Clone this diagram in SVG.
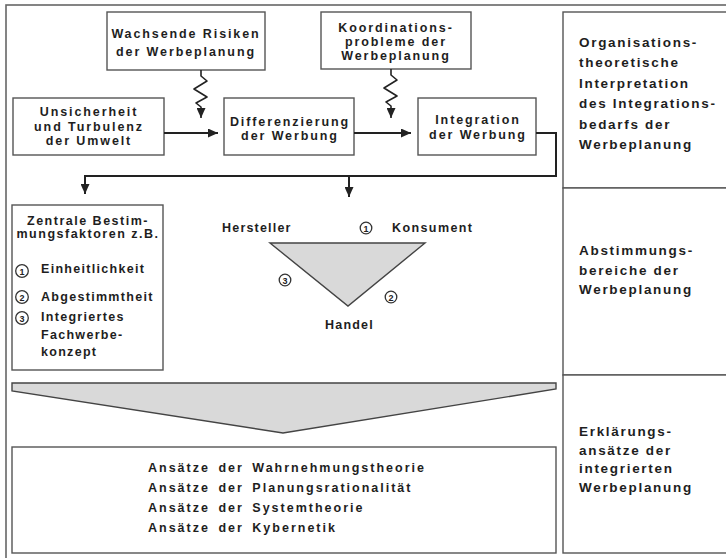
<svg xmlns="http://www.w3.org/2000/svg" width="726" height="558" viewBox="0 0 726 558">
<style>
  .box { fill: #ffffff; stroke: #555555; stroke-width: 1.4; }
  .frame { fill: none; stroke: #666666; stroke-width: 1.6; }
  .t { font-family: "Liberation Sans", Arial, sans-serif; font-weight: bold; font-size: 12.5px; fill: #1e1e1e; letter-spacing: 1.9px; }
  .c { text-anchor: middle; }
  .r { font-size: 13.5px; letter-spacing: 1.7px; }
  .b { word-spacing: 3px; letter-spacing: 2px; }
  .z { letter-spacing: 1.5px; }
  .conn { fill: none; stroke: #222222; stroke-width: 2; }
  .zig { fill: none; stroke: #222222; stroke-width: 1.6; stroke-linejoin: round; }
  .shade { fill: #d9d9d9; stroke: #444444; stroke-width: 1.4; }
  .num { fill: #ffffff; stroke: #333333; stroke-width: 1.3; }
  .nt { font-family: "Liberation Sans", Arial, sans-serif; font-weight: bold; font-size: 9px; fill: #222222; text-anchor: middle; }
</style>
<defs>
  <marker id="ah" markerUnits="userSpaceOnUse" markerWidth="10" markerHeight="9" refX="10" refY="4.5" orient="auto">
    <path d="M0,0 L10,4.5 L0,9 z" fill="#222222"/>
  </marker>
</defs>

<rect width="726" height="558" fill="#ffffff"/>

<!-- outer frame -->
<rect class="frame" x="6" y="5" width="740" height="570"/>

<!-- right column -->
<g id="rc1">
  <rect class="box" x="563" y="12" width="180" height="176"/>
  <text class="t r" x="579" y="47">Organisations-</text>
  <text class="t r" x="579" y="67">theoretische</text>
  <text class="t r" x="579" y="88">Interpretation</text>
  <text class="t r" x="579" y="108">des Integrations-</text>
  <text class="t r" x="579" y="129">bedarfs der</text>
  <text class="t r" x="579" y="149">Werbeplanung</text>
</g>
<g id="rc2">
  <rect class="box" x="563" y="188" width="180" height="187"/>
  <text class="t r" x="579" y="255">Abstimmungs-</text>
  <text class="t r" x="579" y="275">bereiche der</text>
  <text class="t r" x="579" y="294">Werbeplanung</text>
</g>
<g id="rc3">
  <rect class="box" x="563" y="375" width="180" height="178"/>
  <text class="t r" x="579" y="436">Erklärungs-</text>
  <text class="t r" x="579" y="455">ansätze der</text>
  <text class="t r" x="579" y="473">integrierten</text>
  <text class="t r" x="579" y="492">Werbeplanung</text>
</g>

<!-- top nodes -->
<g id="risiken">
  <rect class="box" x="107" y="12" width="158" height="58"/>
  <text class="t c" x="186" y="38">Wachsende Risiken</text>
  <text class="t c" x="186" y="56">der Werbeplanung</text>
</g>
<g id="koordination">
  <rect class="box" x="321" y="12" width="150" height="57"/>
  <text class="t c" x="396" y="32">Koordinations-</text>
  <text class="t c" x="396" y="46">probleme der</text>
  <text class="t c" x="396" y="60">Werbeplanung</text>
</g>
<g id="unsicherheit">
  <rect class="box" x="13" y="98" width="151" height="57"/>
  <text class="t c" x="89" y="116">Unsicherheit</text>
  <text class="t c" x="89" y="131">und Turbulenz</text>
  <text class="t c" x="89" y="145">der Umwelt</text>
</g>
<g id="differenzierung">
  <rect class="box" x="224" y="98" width="130" height="57"/>
  <text class="t c" x="290" y="126">Differenzierung</text>
  <text class="t c" x="290" y="140">der Werbung</text>
</g>
<g id="integration">
  <rect class="box" x="418" y="98" width="118" height="57"/>
  <text class="t c" x="478" y="124">Integration</text>
  <text class="t c" x="478" y="139">der Werbung</text>
</g>

<!-- connectors -->
<g id="connectors">
  <line class="conn" x1="164" y1="133" x2="218" y2="133" marker-end="url(#ah)"/>
  <line class="conn" x1="354" y1="133" x2="411" y2="133" marker-end="url(#ah)"/>
  <path class="conn" d="M536,133 H556 V176 H85 V194" marker-end="url(#ah)"/>
  <path class="conn" d="M349,176 V197" marker-end="url(#ah)"/>
  <polyline class="zig" points="201,70 201,76 207,81 194,89 207,97 196,103 201,107 201,118" marker-end="url(#ah)"/>
  <polyline class="zig" points="391,69 391,75 397,80 384,88 397,96 386,102 391,106 391,118" marker-end="url(#ah)"/>
</g>

<!-- Zentrale Bestimmungsfaktoren -->
<g id="faktoren">
  <rect class="box" x="12" y="205" width="151" height="165"/>
  <text class="t c z" x="88" y="225">Zentrale Bestim-</text>
  <text class="t c z" x="88" y="238">mungsfaktoren z.B.</text>
  <circle class="num" cx="22" cy="271" r="6.3"/>
  <text class="nt" x="22" y="274.5">1</text>
  <text class="t" style="letter-spacing:1.3px" x="41" y="273">Einheitlichkeit</text>
  <circle class="num" cx="22" cy="297" r="6.3"/>
  <text class="nt" x="22" y="300.5">2</text>
  <text class="t" style="letter-spacing:1.3px" x="41" y="301">Abgestimmtheit</text>
  <circle class="num" cx="22" cy="318" r="6.3"/>
  <text class="nt" x="22" y="321.5">3</text>
  <text class="t" style="letter-spacing:1.3px" x="41" y="321">Integriertes</text>
  <text class="t" style="letter-spacing:1.3px" x="41" y="339">Fachwerbe-</text>
  <text class="t" style="letter-spacing:1.3px" x="41" y="356">konzept</text>
</g>

<!-- Abstimmungs-Dreieck -->
<g id="dreieck">
  <polygon class="shade" points="270,243 425,243 348,306"/>
  <text class="t" style="letter-spacing:1.2px" x="222" y="232">Hersteller</text>
  <circle class="num" cx="366" cy="228" r="5.8"/>
  <text class="nt" x="366" y="231.5">1</text>
  <text class="t" style="letter-spacing:1.4px" x="392" y="232">Konsument</text>
  <circle class="num" cx="285" cy="280" r="5.8"/>
  <text class="nt" x="285" y="283.5">3</text>
  <circle class="num" cx="391" cy="297" r="5.8"/>
  <text class="nt" x="391" y="300.5">2</text>
  <text class="t" style="letter-spacing:1.2px" x="325" y="329">Handel</text>
</g>

<!-- funnel -->
<g id="trichter">
  <polygon class="shade" points="12,383 556,383 556,389 283,433 12,391"/>
</g>

<!-- Erklärungsansätze -->
<g id="ansaetze">
  <rect class="box" x="12" y="447" width="544" height="106"/>
  <text class="t b" x="148" y="472">Ansätze der Wahrnehmungstheorie</text>
  <text class="t b" x="148" y="492">Ansätze der Planungsrationalität</text>
  <text class="t b" x="148" y="512">Ansätze der Systemtheorie</text>
  <text class="t b" x="148" y="532">Ansätze der Kybernetik</text>
</g>
</svg>
